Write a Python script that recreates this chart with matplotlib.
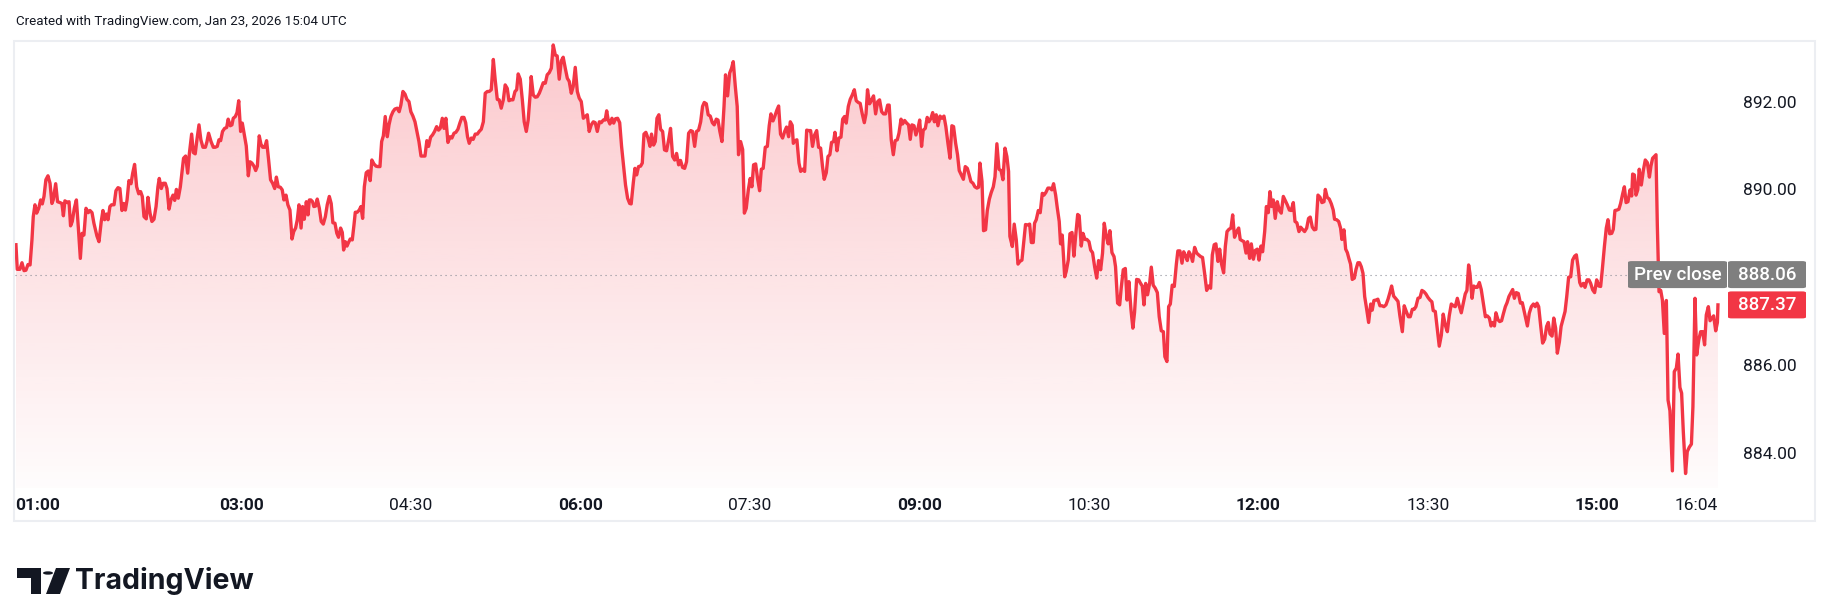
# -*- coding: utf-8 -*-
"""
Intraday price line, TradingView snapshot style (Jan 23, 2026).
"""

import numpy as np
import matplotlib
matplotlib.use("Agg")
import matplotlib.pyplot as plt
from matplotlib.patches import Rectangle, FancyBboxPatch, Polygon, Circle
from matplotlib.colors import to_rgb

W, H = 1830, 611
RED = "#f23645"
TXT = "#131722"

# minutes after 01:00 and last price in six blocks
minutes_a = [
    0.2, 0.9, 2.3, 3.4, 4.5, 5.5, 6.6, 7.7, 8.7, 9.4,
    10.3, 11.2, 12.3, 13.3, 14.2, 15.1, 16.1, 17.2, 18.3, 19.3,
    20.0, 21.3, 22.3, 23.6, 24.6, 25.4, 26.2, 27.5, 28.4, 29.2,
    30.1, 31.2, 32.3, 33.3, 34.4, 35.3, 36.3, 37.4, 38.6, 39.5,
    40.6, 41.6, 43.2, 44.3, 45.5, 46.4, 47.3, 48.2, 49.1, 50.1,
    51.0, 52.3, 53.3, 54.4, 55.4, 56.5, 57.4, 58.3, 59.2, 60.2,
    61.3, 62.2, 63.2, 64.3, 65.4, 66.4, 67.3, 68.2, 69.4, 70.3,
    71.4, 72.4, 73.5, 74.6, 75.6, 76.3, 77.4, 78.4, 79.5, 80.4,
    81.5, 82.5, 83.6, 84.5, 85.4, 86.4, 87.5, 88.4, 89.2, 90.3,
    91.4, 92.3, 93.5, 94.4, 95.4, 96.3, 97.4, 98.4, 99.5, 100.8,
    101.6, 102.5, 103.8, 105.0, 106.0, 107.1, 108.0, 108.9, 109.9, 111.0,
    112.1, 112.9, 114.0, 114.9, 115.6, 116.7, 117.6, 118.5, 119.5, 120.4,
    121.5, 122.5, 123.6, 124.5, 125.5, 126.6, 127.5, 128.4, 129.4, 130.3,
    131.2, 132.3, 133.3, 134.4, 135.4, 136.5, 137.6, 138.5, 139.5, 140.6,
    141.6, 142.5, 143.6, 144.6, 145.7, 146.8, 147.7, 148.7, 149.6, 150.5,
    151.6, 152.4, 153.3, 154.4, 155.3,
]
prices_a = [
    888.74, 888.18, 888.18, 888.33, 888.15, 888.16, 888.29, 888.28, 888.85, 889.38,
    889.65, 889.46, 889.57, 889.76, 889.67, 889.84, 890.22, 890.31, 890.14, 889.68,
    889.76, 890.13, 889.72, 889.70, 889.68, 889.40, 889.74, 889.70, 889.72, 889.17,
    889.27, 889.57, 889.76, 889.15, 888.43, 889.00, 888.96, 889.57, 889.47, 889.52,
    889.47, 889.23, 888.94, 888.81, 889.27, 889.52, 889.31, 889.44, 889.31, 889.61,
    889.65, 889.65, 889.97, 890.04, 890.02, 889.52, 889.68, 889.53, 889.76, 890.20,
    890.13, 890.37, 890.57, 890.06, 889.90, 889.95, 889.84, 889.38, 889.33, 889.82,
    889.46, 889.27, 889.32, 889.61, 890.06, 890.25, 890.02, 890.14, 890.14, 890.02,
    889.55, 889.76, 889.87, 889.75, 890.00, 889.80, 890.06, 890.41, 890.71, 890.76,
    890.37, 890.82, 891.26, 890.84, 890.81, 891.13, 891.47, 891.13, 890.96, 890.96,
    891.08, 891.28, 891.09, 890.96, 890.96, 890.98, 891.13, 891.11, 891.32, 891.39,
    891.41, 891.60, 891.45, 891.47, 891.62, 891.66, 891.75, 892.02, 891.32, 891.51,
    891.24, 890.99, 890.31, 890.63, 890.60, 890.53, 890.43, 890.53, 891.22, 891.03,
    890.96, 890.96, 891.11, 890.66, 890.22, 890.14, 890.02, 890.28, 890.06, 890.05,
    889.99, 889.76, 889.87, 889.65, 889.53, 888.87, 889.04, 889.12, 889.31, 889.65,
    889.12, 889.61, 889.32, 889.72, 889.42,
]

minutes_b = [
    156.0, 156.8, 157.7, 158.4, 159.3, 160.2, 161.3, 162.3, 163.4, 164.5,
    165.5, 166.6, 167.6, 168.5, 169.6, 170.6, 171.5, 172.6, 173.5, 174.2,
    175.1, 176.0, 176.8, 177.7, 178.8, 179.7, 180.4, 181.4, 182.5, 183.4,
    184.3, 185.2, 186.2, 187.3, 188.3, 189.2, 190.3, 191.4, 192.4, 193.5,
    194.4, 195.3, 196.3, 197.4, 198.3, 199.3, 200.4, 201.4, 202.7, 203.7,
    204.6, 205.7, 206.8, 207.8, 208.9, 209.9, 211.0, 212.1, 213.1, 214.2,
    215.3, 216.3, 217.4, 218.4, 219.3, 220.4, 221.4, 222.5, 223.6, 224.6,
    225.5, 226.6, 227.5, 228.5, 229.6, 230.7, 231.7, 232.8, 233.8, 234.9,
    236.0, 237.0, 238.1, 239.0, 240.0, 240.9, 242.0, 243.0, 244.1, 245.2,
    246.2, 247.3, 248.4, 249.4, 250.5, 251.5, 252.6, 253.7, 254.7, 255.8,
    256.8, 257.9, 259.0, 260.0, 261.1, 262.0, 263.0, 264.1, 265.2, 266.1,
    266.9, 268.0, 269.1, 270.1, 271.2, 272.2, 273.3, 273.8, 274.9, 276.0,
    277.0, 278.1, 279.1, 280.2, 281.3, 282.3, 283.4, 284.5, 285.5, 286.6,
    287.6, 288.7, 289.8, 290.8, 291.9, 293.0, 294.0, 295.1, 296.1, 297.2,
    298.3, 299.3, 300.4, 301.5, 302.5, 303.6, 304.6, 305.7, 306.8, 307.8,
    308.9, 310.0,
]
prices_b = [
    889.76, 889.76, 889.72, 889.61, 889.62, 889.78, 889.57, 889.27, 889.21, 889.38,
    889.65, 889.84, 889.68, 889.24, 889.23, 889.00, 888.91, 889.12, 889.02, 888.62,
    888.81, 888.71, 888.79, 888.87, 888.85, 889.19, 889.48, 889.48, 889.53, 889.61,
    889.34, 890.06, 890.38, 890.42, 890.20, 890.67, 890.58, 890.53, 890.52, 890.52,
    891.09, 891.22, 891.66, 891.20, 891.47, 891.66, 891.77, 891.83, 891.85, 891.77,
    891.92, 892.23, 892.17, 892.05, 892.00, 891.77, 891.67, 891.54, 891.32, 891.09,
    890.76, 890.76, 890.76, 891.11, 890.98, 891.19, 891.24, 891.32, 891.43, 891.35,
    891.39, 891.62, 891.39, 891.62, 891.07, 891.20, 891.17, 891.28, 891.30, 891.37,
    891.52, 891.64, 891.64, 891.52, 891.20, 891.05, 891.17, 891.14, 891.26, 891.26,
    891.32, 891.37, 891.54, 892.19, 892.23, 892.23, 892.27, 892.96, 892.49, 892.05,
    892.04, 891.85, 892.04, 892.38, 892.30, 892.02, 892.04, 892.04, 892.23, 892.27,
    892.63, 892.51, 892.04, 891.54, 891.32, 891.58, 892.19, 892.57, 892.15, 892.10,
    892.11, 892.19, 892.30, 892.43, 892.42, 892.61, 892.66, 892.76, 893.29, 893.06,
    893.04, 892.51, 892.93, 893.01, 892.76, 892.53, 892.46, 892.19, 892.34, 892.78,
    892.23, 892.08, 892.00, 891.62, 891.66, 891.70, 891.32, 891.47, 891.54, 891.52,
    891.32, 891.54,
]

minutes_c = [
    311.0, 312.1, 313.1, 313.9, 314.7, 315.6, 316.7, 317.6, 318.6, 319.7,
    320.8, 321.8, 322.9, 323.9, 325.0, 326.1, 326.9, 328.0, 328.9, 329.8,
    330.8, 331.9, 332.8, 333.7, 334.7, 335.8, 336.9, 337.7, 338.8, 339.7,
    340.6, 341.6, 342.5, 343.6, 344.6, 345.7, 346.8, 347.8, 348.9, 350.0,
    351.0, 352.1, 353.1, 354.2, 355.3, 356.3, 357.4, 358.5, 359.5, 360.6,
    361.6, 362.7, 363.8, 364.8, 365.7, 366.8, 367.8, 368.9, 370.0, 371.0,
    372.1, 373.0, 374.0, 375.1, 376.2, 377.0, 378.1, 379.2, 380.2, 381.1,
    382.2, 383.2, 383.9, 385.0, 386.1, 387.0, 388.0, 389.1, 390.1, 391.0,
    391.9, 393.0, 394.0, 395.1, 396.0, 397.0, 398.1, 399.2, 400.2, 401.1,
    402.2, 403.2, 404.3, 405.2, 406.2, 407.3, 408.4, 409.4, 410.5, 411.4,
    412.4, 413.0, 413.9, 414.9, 416.0, 416.9, 417.9, 419.0, 420.1, 421.1,
    422.2, 423.2, 424.3, 425.4, 426.4, 427.5, 428.5, 429.4, 430.5, 431.4,
    432.4, 433.3, 434.4, 435.1, 436.2, 437.2, 438.3, 439.2, 440.2, 441.1,
    442.2, 443.2, 444.3, 445.4, 446.4, 447.5, 448.5, 449.6, 450.7, 451.6,
    452.4, 453.5, 454.6, 455.6, 456.7, 457.8, 458.8, 459.9, 460.9, 462.0,
    463.1, 463.9,
]
prices_c = [
    891.52, 891.58, 891.58, 891.79, 891.58, 891.49, 891.62, 891.51, 891.61, 891.62,
    891.52, 890.98, 890.52, 890.10, 889.80, 889.68, 889.67, 890.14, 890.48, 890.33,
    890.52, 890.53, 890.60, 891.26, 891.30, 891.17, 890.98, 891.26, 891.01, 891.09,
    891.62, 891.70, 891.37, 891.32, 890.90, 890.88, 891.13, 891.39, 890.75, 890.67,
    890.82, 890.56, 890.66, 890.50, 890.48, 890.63, 891.28, 891.34, 891.32, 890.98,
    891.32, 891.35, 891.54, 891.89, 891.98, 891.95, 891.70, 891.67, 891.52, 891.47,
    891.60, 891.58, 891.32, 891.09, 891.89, 892.61, 892.13, 892.65, 892.76, 892.91,
    892.34, 891.89, 890.79, 891.09, 890.91, 889.46, 889.57, 889.99, 890.25, 890.06,
    890.56, 890.58, 890.25, 889.97, 890.46, 890.48, 890.96, 890.98, 891.45, 891.72,
    891.56, 891.67, 891.81, 891.90, 891.26, 891.17, 891.32, 891.42, 891.20, 891.54,
    891.46, 891.05, 891.11, 891.13, 890.60, 890.41, 890.46, 890.41, 891.35, 891.34,
    891.34, 890.98, 891.24, 891.34, 890.96, 890.94, 890.52, 890.23, 890.38, 890.75,
    890.79, 891.07, 891.09, 891.30, 890.88, 891.17, 891.19, 891.60, 891.66, 891.51,
    891.89, 892.05, 892.15, 892.27, 892.02, 891.98, 891.96, 891.72, 891.52, 891.72,
    892.27, 891.95, 892.04, 892.13, 891.72, 892.00, 892.04, 891.77, 891.72, 891.72,
    891.92, 891.92,
]

minutes_d = [
    465.0, 466.1, 467.1, 468.2, 469.1, 470.2, 471.0, 472.1, 473.2, 474.2,
    475.1, 476.0, 477.1, 478.1, 479.2, 480.1, 481.1, 482.0, 483.1, 484.1,
    485.0, 486.1, 487.0, 487.9, 488.9, 489.8, 490.9, 491.9, 493.0, 494.0,
    495.1, 496.2, 497.2, 498.1, 499.2, 500.2, 501.1, 502.2, 503.3, 504.3,
    505.4, 506.4, 507.3, 508.4, 509.4, 510.5, 511.4, 512.1, 513.2, 514.0,
    515.1, 516.0, 517.1, 518.1, 519.2, 520.1, 521.1, 522.2, 523.3, 524.3,
    525.4, 526.4, 527.3, 528.0, 529.3, 530.3, 531.4, 532.3, 533.3, 534.4,
    535.3, 536.3, 537.4, 538.5, 539.4, 540.4, 541.1, 542.0, 543.1, 544.1,
    545.2, 546.1, 547.1, 548.2, 549.3, 550.3, 551.2, 552.3, 553.2, 554.2,
    554.9, 555.8, 557.1, 557.9, 559.0, 559.9, 561.0, 562.0, 562.9, 564.0,
    564.8, 565.9, 566.8, 567.9, 568.9, 570.0, 570.9, 571.9, 573.0, 574.1,
    575.1, 576.2, 577.2, 578.1, 579.2, 580.2, 581.1, 582.2, 583.3, 584.1,
    585.2, 586.3, 587.1, 588.2, 589.3, 590.2, 591.2, 592.3, 593.3, 594.2,
    595.3, 596.4, 597.4, 598.3, 599.2, 600.1, 601.1, 602.2, 603.1, 604.1,
    605.2, 606.3, 607.3, 608.4, 609.5, 610.3, 611.4, 612.3, 613.2, 614.2,
    615.3, 616.4, 617.2, 618.3,
]
prices_d = [
    891.13, 890.79, 891.11, 891.13, 891.28, 891.60, 891.49, 891.57, 891.51, 891.47,
    891.14, 891.47, 891.45, 891.24, 891.39, 891.58, 890.98, 891.35, 891.39, 891.64,
    891.54, 891.62, 891.75, 891.54, 891.70, 891.45, 891.67, 891.62, 891.67, 891.43,
    891.05, 890.71, 891.45, 891.43, 891.05, 890.79, 890.43, 890.33, 890.23, 890.52,
    890.48, 890.33, 890.18, 890.14, 890.06, 890.03, 890.05, 890.60, 890.18, 889.06,
    889.08, 889.52, 889.78, 889.93, 890.06, 890.29, 891.04, 890.46, 890.43, 890.22,
    890.94, 890.75, 890.41, 888.93, 888.70, 889.21, 888.85, 888.30, 888.36, 888.39,
    888.77, 889.20, 889.19, 889.21, 888.79, 888.79, 889.23, 889.31, 889.52, 889.47,
    889.91, 889.87, 889.93, 890.03, 890.03, 889.99, 890.13, 889.87, 889.57, 889.27,
    888.76, 888.96, 888.01, 888.13, 888.39, 888.99, 889.02, 888.48, 888.93, 889.43,
    889.40, 888.71, 889.00, 888.86, 888.86, 888.81, 888.62, 888.56, 888.24, 887.98,
    888.38, 888.17, 888.55, 889.23, 888.93, 888.76, 889.06, 888.56, 888.47, 888.24,
    887.41, 887.37, 887.75, 888.17, 888.20, 887.48, 887.90, 887.26, 886.84, 887.20,
    887.95, 887.94, 887.86, 887.80, 887.37, 887.86, 887.60, 887.86, 888.23, 887.82,
    887.75, 887.65, 887.10, 886.78, 886.76, 886.19, 886.08, 887.33, 887.39, 887.82,
    887.79, 888.30, 888.60, 888.60,
]

minutes_e = [
    619.4, 620.3, 621.3, 622.2, 623.1, 624.2, 625.0, 626.1, 627.2, 628.2,
    629.3, 630.3, 631.4, 632.5, 633.5, 634.6, 635.5, 636.5, 637.4, 638.5,
    639.4, 640.4, 641.5, 642.4, 643.3, 644.3, 645.4, 646.3, 647.3, 648.4,
    649.5, 650.3, 651.4, 652.3, 653.4, 654.2, 655.3, 656.2, 657.3, 658.3,
    659.4, 660.3, 661.3, 662.2, 663.3, 664.2, 665.2, 666.1, 667.0, 667.9,
    668.9, 670.0, 671.1, 672.1, 673.2, 674.2, 675.3, 676.4, 677.4, 678.5,
    679.4, 680.4, 681.5, 682.4, 683.4, 684.5, 685.6, 686.6, 687.5, 688.6,
    689.6, 690.5, 691.6, 692.7, 693.7, 694.8, 695.5, 696.5, 697.6, 698.7,
    699.7, 700.4, 701.5, 702.6, 703.6, 704.3, 705.4, 706.3, 707.2, 708.0,
    708.9, 709.8, 710.9, 711.8, 712.8, 713.7, 714.6, 715.5, 716.4, 717.4,
    718.5, 719.6, 720.4, 721.3, 722.4, 723.4, 724.5, 725.6, 726.6, 727.7,
    728.8, 729.8, 730.7, 731.8, 732.8, 734.1, 735.1, 736.4, 737.4, 738.5,
    739.6, 740.6, 741.7, 742.7, 743.6, 744.7, 745.8, 746.8, 747.9, 748.9,
    750.0, 751.1, 752.1, 752.8, 753.9, 755.0, 756.0, 757.1, 758.1, 759.2,
    760.3, 761.3, 762.4, 763.5, 764.5, 765.6, 766.6, 767.7, 768.8, 769.8,
    770.7, 771.6, 772.3,
]
prices_e = [
    888.32, 888.58, 888.49, 888.38, 888.58, 888.49, 888.36, 888.68, 888.55, 888.51,
    888.47, 888.45, 888.09, 887.70, 887.80, 887.75, 888.51, 888.74, 888.76, 888.36,
    888.64, 888.30, 888.10, 888.70, 889.04, 889.09, 889.12, 889.42, 888.91, 889.04,
    889.12, 888.86, 888.83, 888.81, 888.55, 888.81, 888.43, 888.76, 888.41, 888.61,
    888.64, 888.39, 888.71, 888.58, 889.04, 889.61, 889.47, 889.95, 889.61, 889.76,
    889.34, 889.72, 889.52, 889.46, 889.84, 889.75, 889.65, 889.53, 889.52, 889.70,
    889.27, 889.24, 889.04, 889.14, 889.09, 889.04, 889.12, 889.34, 889.37, 889.14,
    889.08, 889.09, 889.87, 889.82, 889.70, 889.72, 890.00, 889.82, 889.78, 889.67,
    889.53, 889.32, 889.31, 889.27, 889.12, 888.86, 889.08, 888.64, 888.56, 888.43,
    888.30, 887.95, 887.98, 888.18, 888.33, 888.33, 888.24, 888.09, 887.56, 887.29,
    886.97, 887.39, 887.25, 887.47, 887.48, 887.50, 887.35, 887.35, 887.33, 887.37,
    887.50, 887.65, 887.80, 887.57, 887.52, 887.45, 887.12, 886.76, 887.35, 887.22,
    887.10, 887.10, 887.27, 887.27, 887.33, 887.52, 887.54, 887.70, 887.67, 887.62,
    887.54, 887.48, 887.44, 887.24, 887.22, 886.80, 886.43, 886.68, 887.16, 886.91,
    886.76, 887.12, 887.39, 887.35, 887.33, 887.52, 887.35, 887.19, 887.41, 887.62,
    887.70, 888.28, 888.09,
]

minutes_f = [
    773.4, 774.3, 775.3, 776.2, 777.3, 778.3, 779.4, 780.5, 781.5, 782.6,
    783.5, 784.4, 785.3, 786.1, 787.2, 788.1, 789.1, 790.0, 791.1, 792.0,
    793.0, 793.9, 795.0, 795.9, 796.9, 798.0, 799.1, 800.1, 801.0, 802.1,
    802.8, 803.8, 804.9, 806.0, 807.0, 807.9, 808.8, 809.9, 810.9, 812.0,
    813.0, 813.9, 814.8, 815.9, 816.8, 817.8, 818.7, 819.8, 820.7, 821.7,
    822.8, 823.7, 824.7, 825.8, 826.8, 827.9, 828.8, 829.7, 830.6, 831.4,
    832.5, 833.4, 834.5, 835.5, 836.4, 837.5, 838.5, 839.6, 840.7, 841.7,
    842.6, 843.7, 844.7, 845.6, 846.5, 847.6, 848.4, 849.3, 850.4, 851.4,
    852.3, 853.4, 854.3, 855.2, 856.2, 857.3, 858.2, 858.7, 859.6, 860.5,
    861.4, 862.2, 863.3, 864.4, 865.4, 866.5, 867.6, 868.4, 869.3, 870.4,
    871.1, 871.8, 872.7, 873.6, 874.5, 875.5, 876.6, 877.5, 878.5, 879.8,
    880.8, 881.9, 882.8, 883.8, 884.7, 885.6, 886.8, 887.7, 888.8, 889.9,
    890.7, 891.8, 892.7, 893.8, 894.8, 895.9, 896.9, 897.8, 898.9, 899.8,
    900.8, 901.7, 902.8, 903.7, 904.0,
]
prices_f = [
    887.52, 887.80, 887.77, 887.77, 887.88, 887.72, 887.41, 887.10, 887.12, 887.07,
    886.89, 886.97, 886.89, 887.19, 887.03, 886.99, 887.01, 887.16, 887.33, 887.42,
    887.56, 887.63, 887.72, 887.52, 887.65, 887.63, 887.41, 887.42, 887.24, 887.01,
    886.89, 887.18, 887.33, 887.39, 887.33, 887.41, 887.33, 886.88, 886.50, 886.59,
    886.88, 886.97, 886.71, 886.66, 887.07, 886.84, 886.27, 886.53, 886.88, 887.04,
    887.22, 887.56, 888.00, 888.01, 888.39, 888.48, 888.51, 888.24, 887.88, 887.80,
    887.86, 887.77, 887.94, 887.94, 887.86, 887.71, 887.65, 887.94, 887.80, 887.79,
    888.18, 888.70, 889.12, 889.31, 888.99, 889.00, 889.09, 889.52, 889.53, 889.55,
    889.68, 889.90, 890.06, 889.70, 889.72, 889.99, 889.85, 890.35, 890.33, 889.87,
    889.99, 890.46, 890.10, 890.44, 890.67, 890.61, 890.28, 890.53, 890.71, 890.76,
    890.79, 889.19, 887.67, 887.70, 887.48, 886.72, 887.47, 885.20, 884.96, 883.59,
    885.85, 885.93, 886.25, 885.49, 885.36, 884.48, 883.53, 884.03, 884.13, 884.20,
    885.05, 887.52, 886.23, 886.57, 886.76, 886.76, 886.46, 887.14, 887.33, 887.01,
    887.07, 887.12, 886.78, 886.97, 887.37,
]

PREV_CLOSE = 888.06
LAST_PRICE = 887.37
price_ticks = [884, 886, 890, 892]
time_ticks = [0, 120, 210, 300, 390, 480, 570, 660, 750, 840, 904]
time_labels = ["01:00", "03:00", "04:30", "06:00", "07:30", "09:00",
               "10:30", "12:00", "13:30", "15:00", "16:04"]
bold_labels = ["01:00", "03:00", "06:00", "09:00", "12:00", "15:00"]


def fx(px):
    return px / W


def fy(px):
    # pixel row measured from the top -> figure fraction
    return 1 - px / H


def main():
    plt.rcParams["font.family"] = ["Roboto", "DejaVu Sans"]
    x = np.array(minutes_a + minutes_b + minutes_c + minutes_d + minutes_e + minutes_f)
    y = np.array(prices_a + prices_b + prices_c + prices_d + prices_e + prices_f)

    fig = plt.figure(figsize=(W / 100, H / 100), dpi=100, facecolor="white")
    ax = fig.add_axes([fx(15), fy(488), fx(1727 - 15), (488 - 41) / H])
    ax.set_xlim(-0.3, 908.8)
    ax.set_ylim(883.20, 893.38)
    for s in ax.spines.values():
        s.set_visible(False)

    # gradient area under the line
    ymin = ax.get_ylim()[0]
    verts = [(x[0], ymin)] + list(zip(x, y)) + [(x[-1], ymin)]
    clip = Polygon(verts, closed=True, fc="none", ec="none")
    ax.add_patch(clip)
    rgba = np.zeros((256, 1, 4))
    rgba[..., :3] = to_rgb(RED)
    rgba[..., 3] = np.linspace(0.27, 0.015, 256)[:, None]
    im = ax.imshow(rgba, extent=(x[0], x[-1], ymin, y.max()), aspect="auto",
                   origin="upper", zorder=1, interpolation="bilinear")
    im.set_clip_path(clip)

    ax.axhline(PREV_CLOSE, color="#8a8d96", lw=0.8, ls=(0, (1, 3.5)), zorder=2)
    ax.plot(x, y, color=RED, lw=2.4, solid_joinstyle="round", zorder=3)

    # time axis
    ax.set_xticks(time_ticks)
    ax.set_xticklabels(time_labels)
    ax.tick_params(axis="x", length=0, pad=7, labelsize=12.5, labelcolor=TXT)
    for lab in ax.get_xticklabels():
        if lab.get_text() in bold_labels:
            lab.set_fontweight("bold")
    ax.get_xticklabels()[0].set_ha("left")
    ax.get_xticklabels()[-1].set_ha("right")

    # price axis
    ax.yaxis.tick_right()
    ax.set_yticks(price_ticks)
    ax.set_yticklabels([f"{v:.2f}" for v in price_ticks])
    ax.tick_params(axis="y", length=0, pad=11.5, labelsize=12.5, labelcolor=TXT)

    # price labels on the scale
    fig.canvas.draw()
    def tag(value, x0, x1, text, color):
        ypx = ax.transData.transform((0, value))[1]
        h = 27
        box = FancyBboxPatch((fx(x0), (ypx - h / 2) / H), fx(x1 - x0), h / H,
                             boxstyle="round,pad=0,rounding_size=0.002",
                             transform=fig.transFigure, fc=color, ec="none", zorder=5)
        fig.add_artist(box)
        fig.text(fx((x0 + x1) / 2), ypx / H, text, ha="center", va="center",
                 color="white", fontsize=13.5, fontweight="medium", zorder=6)

    tag(PREV_CLOSE, 1628, 1727, "Prev close", "#7f7f7f")
    tag(PREV_CLOSE, 1728, 1806, f"{PREV_CLOSE:.2f}", "#7f7f7f")
    tag(LAST_PRICE, 1728, 1806, f"{LAST_PRICE:.2f}", RED)

    # outer frame
    fig.add_artist(Rectangle((fx(14), fy(521)), fx(1815 - 14), (521 - 41) / H,
                             transform=fig.transFigure, fill=False,
                             ec="#eceef2", lw=1.5))

    fig.text(fx(16), fy(21), "Created with TradingView.com, Jan 23, 2026 15:04 UTC",
             ha="left", va="center", fontsize=9.6, color=TXT)

    # logo
    icon = Polygon([(fx(17), fy(568)), (fx(41), fy(568)), (fx(41), fy(594)),
                    (fx(31), fy(594)), (fx(31), fy(578)), (fx(17), fy(578))],
                   closed=True, transform=fig.transFigure, fc="#131722", ec="none")
    fig.add_artist(icon)
    fig.add_artist(Circle((fx(48), fy(573)), 5 / W, transform=fig.transFigure,
                          fc="#131722", ec="none"))
    fig.add_artist(Polygon([(fx(56), fy(568)), (fx(70), fy(568)), (fx(60), fy(594)),
                            (fx(46), fy(594))], closed=True, transform=fig.transFigure,
                           fc="#131722", ec="none"))
    fig.text(fx(75), fy(581), "TradingView", ha="left", va="center",
             fontsize=20.5, fontweight="bold", color="#131722", family=["Inter", "DejaVu Sans"])

    fig.savefig("out.png", dpi=100, facecolor="white")


if __name__ == "__main__":
    main()
